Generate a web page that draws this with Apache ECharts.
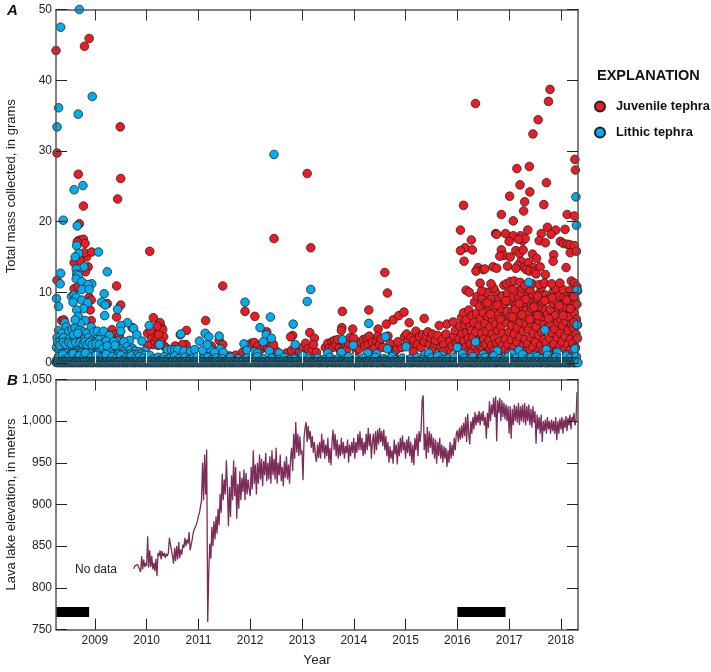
<!DOCTYPE html>
<html>
<head>
<meta charset="utf-8">
<title>Tephra mass and lava lake elevation</title>
<script src="https://cdn.jsdelivr.net/npm/echarts@6/dist/echarts.min.js"></script>
<style>html,body{margin:0;padding:0;background:#fff}#chart{width:711px;height:672px}</style>
</head>
<body>
<div id="chart"></div>
<script>
// Year ticks shared by both panels
const yearTicks = [2009, 2010, 2011, 2012, 2013, 2014, 2015, 2016, 2017, 2018];

// Juvenile tephra samples: [decimal year, grams]
const juvenileEarly = [
[2008.25,44.2],[2008.8,44.8],[2008.89,45.9],[2009.49,33.4],[2008.27,29.7],[2008.68,26.7],[2009.5,26.1],[2009.44,23.2],[2008.78,22.2],[2008.7,19.7],
[2008.68,17.3],[2008.72,17.4],[2008.78,17.5],[2008.81,16.9],[2008.66,17.1],[2008.84,15],[2008.6,14.2],[2008.72,14.5],[2008.87,13.6],[2008.82,12.9],
[2008.6,10.5],[2008.68,10.8],[2008.89,9.3],[2008.93,8.9],[2008.91,7.5],[2008.93,6],[2008.36,6],[2008.4,6.1],[2008.27,11.7],[2008.8,15.6],
[2008.94,15.7],[2009.24,8.4],[2009.42,10.9],[2009.5,8.2],[2009.42,6.5],[2009.33,4.7],[2009.38,4],[2009.72,5],[2009.47,3.8],[2009.62,2.6],
[2010.06,15.8],[2010.13,6.4],[2010.26,5.7],[2010.29,5],[2010.31,4.7],[2010.33,3.7],[2010.02,4.2],[2010.15,4.2],[2010.2,5.2],[2010.1,3.5],
[2010.18,3.2],[2010.23,4],[2010.28,3],[2010.12,2.6],[2010.02,2.5],[2010.34,2.4],[2010.38,2.1],[2010.08,4.6],[2010.22,2.5],[2010.77,4.6],
[2010.65,4],[2010.76,2.6],[2010.69,2.6],[2010.55,2.4],[2011.14,6],[2011.4,3.2],[2011.47,2.6],[2011.47,10.9],[2011.25,2.4],[2011.18,1.8],
[2011.6,1],[2011.72,1.1],[2011.85,1.5],[2011.9,7.3],[2012.09,6.6],[2012.32,4.4],[2012.02,2.8],[2011.98,2.5],[2012.08,2.9],[2012.15,2.4],
[2012.2,1.9],[2012.28,2.3],[2012.34,2],[2012.4,2.5],[2012.46,17.6],[2012.5,1.7],[2012.45,2.6],[2012.82,3.9],[2012.78,3.7],[2012.7,1.4],
[2012.8,1.8],[2012.88,2],[2012.95,1.5],[2013.02,2.2],[2013.07,2.8],[2013.1,26.8],[2013.15,4.3],[2013.24,3.5],[2013.17,16.3],[2013.12,2],
[2013.2,1.8],[2013.22,2.6],[2013.28,1.5]
];
const juvenileMiddle = [
[2013.45,2.2],[2013.5,2.8],[2013.53,2.1],[2013.58,3],[2013.6,2.2],[2013.63,3.2],[2013.66,2.5],[2013.69,3.3],[2013.72,2.1],[2013.75,1.6],
[2013.78,7.3],[2013.77,5],[2013.76,4.6],[2013.8,3.1],[2013.84,2.5],[2013.86,1.9],[2013.9,2.8],[2013.93,3.6],[2013.98,4.8],[2014,3.5],
[2014.03,2.3],[2014.05,1.7],[2014.1,2],[2014.14,2.9],[2014.18,3.3],[2014.21,2.4],[2014.25,3.5],[2014.28,2.6],[2014.29,7.5],[2014.3,3.8],
[2014.33,1.8],[2014.36,3],[2014.4,2.1],[2014.44,3.1],[2014.47,4.8],[2014.47,3.8],[2014.5,2.6],[2014.53,3.4],[2014.56,2.2],[2014.6,12.8],
[2014.65,9.9],[2014.63,5.5],[2014.66,3.8],[2014.7,2.7],[2014.73,1.8],[2014.76,6.1],[2014.79,1.6],[2014.83,1.9],[2014.87,6.7],[2014.97,7.2],
[2014.98,3.7],[2015.02,4.1],[2015.07,5.7],[2015.04,3],[2015.1,3.6],[2015.13,2.4],[2015.16,3.2],[2015.2,4.5],[2015.23,2.6],[2015.27,3.7],
[2015.3,2.2],[2015.33,4],[2015.36,6.3],[2015.36,3],[2015.4,3.8],[2015.43,4.4],[2015.46,2.6],[2015.49,3.5],[2015.52,4.1],[2015.55,2.3],
[2015.58,3.2],[2015.62,3.9],[2015.65,5.3],[2015.68,2.2],[2015.71,3.3],[2015.74,2.6],[2015.78,4.1],[2015.8,5.5],[2015.83,1.9],[2015.86,3.1],
[2015.9,2.4],[2015.93,3.8],[2015.96,4.6],[2015.98,2.8],[2015.92,5.8],[2015.72,1.6],[2015.5,1.7],[2015.15,1.6],[2014.92,2.2],[2014.85,3]
];
const juvenileRecentHigh = [
[2016.35,36.7],[2017.79,38.7],[2017.76,37],[2017.56,34.4],[2017.46,32.4],[2018.27,28.8],[2018.28,27.3],[2017.15,27.5],[2017.39,27.8],[2017.21,25.2],
[2017.72,25.5],[2017.4,24.2],[2017.01,23.6],[2017.3,22.8],[2016.12,22.3],[2017.67,22.4],[2017.28,21.5],[2016.85,21],[2018.12,21],[2018.26,20.8],
[2017.08,20.1],[2016.06,18.8],[2016.74,18.3],[2016.93,18.3],[2017.08,18],[2017.36,18.8],[2017.74,19.2],[2017.9,18.8],[2018.08,18.9],[2017.81,18.2],
[2017.62,18.3],[2016.27,17.4],[2016.15,16.3],[2016.06,15.9],[2016.29,16],[2016.13,14.4],[2016.76,18.2],[2017.22,18],[2017.26,17.3],[2017.31,17.6],
[2017.0,17.2],[2017.18,17.5],[2017.58,17.3],[2017.7,17],[2017.99,17.2],[2018.05,16.9],[2018.12,16.8],[2018.18,16.7],[2018.26,16.6],[2016.85,16],
[2016.9,15.2],[2017.13,15.9],[2017.2,15.5],[2017.27,16],[2016.82,15.1],[2017.02,15],[2017.45,15.4],[2017.53,14.8],[2017.86,15.3],[2017.85,14.4],
[2018.18,15.6],[2018.3,15.8],[2017.23,14.4],[2017.17,13.8],[2017.29,13.5],[2017.37,14.2],[2017.33,13.2],[2017.47,13.5],[2017.39,13],[2017.49,12.9],
[2017.6,13.6],[2017.52,12.6],[2018.1,13.5],[2016.4,13.5],[2016.36,13],[2016.5,13.2],[2016.53,13.3],[2016.69,13.6],[2016.76,13.4],[2016.97,13.7],
[2017.13,13.4],[2017.7,12.5],[2016.17,10.3],[2016.23,10],[2016.44,11.3],[2016.65,11.2],[2016.9,11],[2016.95,11.2],[2017.02,11.5],[2017.1,11.6],
[2017.21,11.4],[2017.3,11],[2017.45,11.2],[2017.58,11.1],[2017.68,11.3],[2017.82,11.2],[2017.98,11.3],[2018.2,11.6],[2018.26,11.3],[2018.31,10.8]
];
const juvenileRecentLow = [
[2016.02,1.6],[2016.03,3.4],[2016.05,5.2],[2016.06,2.4],[2016.08,6.4],[2016.09,4.1],[2016.1,1.9],[2016.12,7.1],[2016.13,3.1],[2016.14,5.4],
[2016.16,2.2],[2016.17,6.1],[2016.18,4.3],[2016.2,1.6],[2016.21,3.5],[2016.22,7.5],[2016.24,5.1],[2016.25,2.7],[2016.27,4.6],[2016.28,6.7],
[2016.29,1.8],[2016.3,3.6],[2016.32,5.7],[2016.33,8.6],[2016.34,2.4],[2016.36,4.4],[2016.37,7],[2016.38,9.4],[2016.39,1.6],[2016.4,3.2],
[2016.42,5.3],[2016.43,8],[2016.44,2.3],[2016.45,6.3],[2016.47,4.2],[2016.48,9.2],[2016.49,1.9],[2016.5,7.1],[2016.51,3.4],[2016.53,5.6],
[2016.54,8.4],[2016.55,2.6],[2016.56,10],[2016.57,4.5],[2016.59,6.6],[2016.6,1.7],[2016.61,3.2],[2016.62,7.8],[2016.63,5.1],[2016.65,9],
[2016.66,2.5],[2016.67,4.1],[2016.68,6.2],[2016.69,8.1],[2016.71,1.8],[2016.72,3.5],[2016.73,10.1],[2016.74,5.5],[2016.75,7.4],[2016.76,2.8],
[2016.78,4.6],[2016.79,6.8],[2016.8,9],[2016.81,1.6],[2016.82,3.1],[2016.84,5.2],[2016.85,7.7],[2016.86,2.4],[2016.87,9.5],[2016.88,4.2],
[2016.9,6.3],[2016.91,8.4],[2016.92,1.9],[2016.93,3.4],[2016.95,5.7],[2016.96,7.3],[2016.97,9.8],[2016.98,2.6],[2017,4.4],[2017.01,6.6],
[2017.02,8.7],[2017.03,1.7],[2017.04,3.3],[2017.05,5.3],[2017.07,7.4],[2017.08,9.3],[2017.09,2.2],[2017.1,4.1],[2017.11,6.2],[2017.13,8.2],
[2017.14,10.1],[2017.15,3],[2017.16,5],[2017.17,7.1],[2017.18,9.2],[2017.2,1.8],[2017.21,3.7],[2017.22,5.8],[2017.23,7.8],[2017.24,9.9],
[2017.26,2.4],[2017.27,4.5],[2017.28,6.5],[2017.29,8.5],[2017.3,1.6],[2017.31,3.3],[2017.33,5.4],[2017.34,7.5],[2017.35,9.4],[2017.36,2.7],
[2017.37,4.7],[2017.38,6.9],[2017.39,8.9],[2017.41,1.9],[2017.42,3.6],[2017.43,5.6],[2017.44,7.7],[2017.45,9.7],[2017.46,2.3],[2017.47,4.2],
[2017.49,6.3],[2017.5,8.3],[2017.51,3],[2017.52,5.1],[2017.53,7.2],[2017.54,9.1],[2017.56,1.7],[2017.57,3.9],[2017.58,6],[2017.59,8],
[2017.6,10],[2017.61,2.5],[2017.63,4.4],[2017.64,6.5],[2017.65,8.6],[2017.66,1.8],[2017.67,3.3],[2017.68,5.4],[2017.7,7.5],[2017.71,9.6],
[2017.72,2.9],[2017.73,4.9],[2017.74,6.9],[2017.75,9],[2017.77,1.6],[2017.78,3.5],[2017.79,5.6],[2017.8,7.6],[2017.81,2.3],[2017.82,4.3],
[2017.84,6.4],[2017.85,8.4],[2017.86,10.2],[2017.87,2.7],[2017.88,4.8],[2017.89,6.7],[2017.91,8.8],[2017.92,1.7],[2017.93,3.6],[2017.94,5.7],
[2017.95,7.8],[2017.96,9.5],[2017.98,2.4],[2017.99,4.2],[2018,6.1],[2018.01,8.2],[2018.02,3],[2018.03,5.3],[2018.05,7.3],[2018.06,9.3],
[2018.07,1.9],[2018.08,3.8],[2018.09,5.9],[2018.1,7.9],[2018.12,10],[2018.13,2.6],[2018.14,4.6],[2018.15,6.6],[2018.16,8.6],[2018.17,1.8],
[2018.19,3.4],[2018.2,5.5],[2018.21,7.6],[2018.22,9.7],[2018.23,2.8],[2018.24,4.9],[2018.26,7],[2018.27,9],[2018.28,2.2],[2018.29,4.1],
[2018.3,6.2],[2018.31,8.3],[2018.32,10.2],[2018.32,3.5],[2018.32,5.4],[2016.7,10.6],[2016.47,10.2],[2017.06,10.5],[2017.4,10.4],[2017.62,10.7],
[2017.9,10.5],[2018.04,10.4],[2018.18,10.3],[2017.25,10.6],[2017.12,7.6],[2017.32,9],[2017.55,9.4],[2017.83,9.2],[2018.11,8.9],[2018.25,9.4],
[2016.58,8.5],[2016.77,8.2],[2016.94,8.8],[2017.19,8.4],[2017.48,7.9],[2017.69,8.8],[2017.97,8.1],[2018.18,7.7],[2016.64,6.9],[2016.83,6.2],
[2017.06,6.5],[2017.25,6.8],[2017.4,6.2],[2017.55,6.7],[2017.76,6.3],[2018.04,6.7],[2018.25,5.7],[2016.26,1.4],[2016.52,1.3],[2016.99,1.4]
];

// Lithic tephra samples: [decimal year, grams]
const lithicEarly = [
[2008.7,50],[2008.34,47.5],[2008.3,36.1],[2008.27,33.4],[2008.68,35.2],[2008.95,37.7],[2008.77,25.1],[2008.6,24.5],[2008.39,20.2],[2008.66,19.4],
[2008.65,16.6],[2009.07,15.7],[2009.24,12.9],[2008.34,12.7],[2008.33,11.2],[2008.69,15.5],[2008.62,15],[2008.79,13.6],[2008.64,13.3],[2008.65,12.6],
[2008.68,12.4],[2008.64,11.9],[2008.75,11.5],[2008.94,11.2],[2008.87,11.1],[2008.75,10.4],[2008.89,10.4],[2009.18,9.8],[2008.55,9.4],[2008.6,9.6],
[2008.26,9.1],[2008.64,9.3],[2008.75,8.9],[2009.13,8.6],[2008.86,8.5],[2008.58,8.6],[2008.3,8],[2009.2,8.2],[2009.44,7.6],[2008.78,7.7],
[2008.65,7.5],[2009.19,6.7],[2008.81,6],[2008.68,6.6],[2008.72,5.6],[2008.62,6.1],[2009.63,5.7],[2009.5,5.3],[2009.75,4.9],[2009.5,4.5],
[2009.81,4],[2009.67,3.2],[2009.91,3.1],[2009.44,3.1],[2008.42,5.7],[2008.45,5.1],[2008.3,4.6],[2008.36,4.2],[2008.5,4.5],[2008.56,4.8],
[2008.62,4.9],[2008.7,4.6],[2008.78,4.4],[2008.84,4.2],[2008.93,5.1],[2008.98,4.4],[2009.05,4.5],[2009.12,3.9],[2009.17,4.5],[2009.28,3.9],
[2008.27,3.6],[2008.33,3.1],[2008.4,3.6],[2008.46,3],[2008.52,3.5],[2008.58,3.2],[2008.66,3.6],[2008.73,3.2],[2008.8,3.4],[2008.88,3.6],
[2008.94,3.2],[2009,3],[2009.08,3.3],[2009.15,2.7],[2009.22,3.1],[2009.3,2.6],[2009.37,3],[2009.56,3],[2009.62,2.3],[2009.72,2.1],
[2008.26,2.2],[2008.31,1.8],[2008.37,2.4],[2008.43,1.7],[2008.48,2.3],[2008.54,1.9],[2008.6,2.4],[2008.64,1.7],[2008.7,2.2],[2008.76,1.8],
[2008.82,2.4],[2008.86,1.8],[2008.91,2.3],[2008.97,1.8],[2009.03,2.2],[2009.1,1.8],[2009.18,2],[2009.25,1.7],[2009.33,2.1],[2009.41,1.8],
[2009.48,2],[2009.54,1.6],[2009.68,1.8],[2009.78,1.7],[2009.86,1.6],[2009.97,1.7],[2010.05,5.3],[2010.25,2.6],[2010.4,1.8],[2010.48,1.9],
[2010.54,1.9],[2010.6,1.9],[2010.66,4.1],[2010.72,1.7],[2010.85,1.7],[2010.93,1.9],[2011.02,3.1],[2011.13,4.2],[2011.2,3.7],[2011.4,3.8],
[2011.42,2],[2011.22,2],[2011.08,1.8],[2011.17,2.6],[2011.31,1.5],[2011.48,1.5],
[2008.28,2.9],[2008.32,2.5],[2008.35,1.3],[2008.39,2.9],[2008.41,1.2],[2008.44,2.6],[2008.47,1.4],[2008.5,2.9],[2008.53,1.2],[2008.55,2.7],
[2008.57,1.4],[2008.59,4],[2008.61,1.2],[2008.63,2.9],[2008.65,1.4],[2008.67,4.2],[2008.69,1.2],[2008.71,2.9],[2008.74,1.4],[2008.77,2.7],
[2008.79,1.2],[2008.81,3],[2008.83,1.4],[2008.85,2.6],[2008.87,1.2],[2008.9,2.9],[2008.92,1.4],[2008.95,2.6],[2008.99,1.2],[2009.02,2.7],
[2009.06,1.4],[2009.09,2.6],[2009.13,1.2],[2009.16,2.1],[2009.2,1.4],[2009.24,2.4],[2009.27,1.2],[2009.31,1.5],[2009.35,1.2],[2009.39,2.5],
[2009.43,1.2],[2009.46,1.3],[2009.52,1.2],[2009.58,1.3],[2009.65,1.2],[2009.7,1.3],[2009.76,1.2],[2009.83,1.2],[2009.9,1.3],[2009.95,1.1]
];
const lithicLater = [
[2012.46,29.5],[2013.17,10.4],[2013.1,8.7],[2011.9,8.6],[2012.39,6.5],[2012.19,5],[2012.31,4],[2012.41,3.5],[2012.25,3],[2011.88,2.7],
[2011.94,1.8],[2012.83,5.5],[2012.87,2.6],[2013.78,3.3],[2013.99,2.5],[2014.29,5.6],[2014.61,3.7],[2014.65,2],[2015.01,2.3],[2012.08,1.6],
[2012.14,1.4],[2012.37,1.7],[2012.56,1.4],[2013.0,1.2],[2013.5,1.4],[2013.76,1.5],[2014.27,1.4],[2014.44,1.3],[2014.75,1.1],[2015.37,1.2],
[2015.45,1.4],[2015.7,1.1],[2016.0,2.2],[2016.35,3],[2016.77,1.7],[2017.19,1.8],[2017.38,11.4],[2017.69,4.7],[2017.72,1.9],[2017.93,1.5],
[2018.29,23.5],[2018.3,19.5],[2018.31,10.3],[2018.31,5.4],[2018.27,2],[2016.1,1.3],[2016.5,1.2],[2017.05,1.3],[2017.5,1.1],[2018.1,1.2]
];
// Small lithic samples along the base of the panel, one every 0.04 year from 2008.26
const lithicBaseline = [
.4,.9,.2,1.2,.5,.1,.8,.3,1.3,.2,.6,1,.1,.7,1.4,.3,.5,.9,.2,1.1,.4,.1,.8,.6,1.2,.2,.5,.9,.1,.7,.3,1.1,.4,.2,.8,.5,1,.1,.6,.3,
.9,.2,.7,.1,.5,1.1,.3,.6,.1,.8,.4,.2,.9,.5,.1,.7,.3,1,.2,.6,.1,.4,.8,.2,.5,.1,.7,.3,.9,.1,.4,.6,.2,.8,.1,.5,.3,.7,.1,.4,
.6,.2,.1,.5,.8,.2,.3,.1,.6,.2,.4,.1,.7,.3,.1,.5,.2,.9,.1,.3,.6,.1,.2,.4,.7,.1,.3,.5,.1,.2,.8,.3,.1,.5,.2,.6,.1,.4,.2,1,
.1,.3,.6,.1,.4,.2,.7,.1,.3,.5,.2,.1,.8,.2,.4,.1,.6,.3,.1,.5,.2,.9,.1,.3,.2,.6,.1,.4,.7,.1,.3,.2,.5,.1,.8,.2,.3,.1,.6,.4,
.1,.2,.9,.1,.5,.3,.1,.7,.2,.4,.1,.6,.2,.1,.8,.3,.1,.5,.2,.4,.1,.7,.2,.1,1,.3,.1,.5,.2,.6,.1,.3,.8,.1,.2,.4,.1,.7,.2,.5,
.1,.9,.2,.3,.1,.6,.2,.8,.1,.4,.2,1,.1,.3,.6,.1,.5,.2,.9,.1,.4,.1,.7,.2,.3,1.2,.1,.5,.2,.8,.1,.4,.9,.2,.6,.1,.3,1.1,.2,.5,
.1,.8,.3,.6,.1,.4,1,.2,.7,.1,.5,.9
];
// Very small samples packed against the axis, one every 0.015 year from 2008.25
const lithicTrace = [
.1,.05,.15,.1,.2,.05,.1,.15,.05,.2,.1,.05,.15,.1,.05,.2,.1,.15,.05,.1,.2,.05,.15,.1,.05,.1,.2,.15,.05,.1,.15,.05,.2,.1,.05,.15,.1,.2,.05,.1,
.15,.05,.1,.2,.1,.05,.15,.1,.05,.2,.1,.15,.05,.1,.2,.05,.15,.1,.05,.1,.2,.15,.05,.1,.15,.05,.2,.1,.05,.15,.1,.2,.05,.1,.15,.05,.1,.2,.1,.05,
.15,.1,.05,.2,.1,.15,.05,.1,.2,.05,.15,.1,.05,.1,.2,.15,.05,.1,.15,.05,.2,.1,.05,.15,.1,.2,.05,.1,.15,.05,.1,.2,.1,.05,.15,.1,.05,.2,.1,.15,
.05,.1,.2,.05,.15,.1,.05,.1,.2,.15,.05,.1,.15,.05,.2,.1,.05,.15,.1,.2,.05,.1,.15,.05,.1,.2,.1,.05,.15,.1,.05,.2,.1,.15,.05,.1,.2,.05,.15,.1,
.05,.1,.2,.15,.05,.1,.15,.05,.2,.1,.05,.15,.1,.2,.05,.1,.15,.05,.1,.2,.1,.05,.15,.1,.05,.2,.1,.15,.05,.1,.2,.05,.15,.1,.05,.1,.2,.15,.05,.1,
.15,.05,.2,.1,.05,.15,.1,.2,.05,.1,.15,.05,.1,.2,.1,.05,.15,.1,.05,.2,.1,.15,.05,.1,.2,.05,.15,.1,.05,.1,.2,.15,.05,.1,.15,.05,.2,.1,.05,.15,
.1,.2,.05,.1,.15,.05,.1,.2,.1,.05,.15,.1,.05,.2,.1,.15,.05,.1,.2,.05,.15,.1,.05,.1,.2,.15,.05,.1,.15,.05,.2,.1,.05,.15,.1,.2,.05,.1,.15,.05,
.1,.2,.1,.05,.15,.1,.05,.2,.1,.15,.05,.1,.2,.05,.15,.1,.05,.1,.2,.15,.05,.1,.15,.05,.2,.1,.05,.15,.1,.2,.05,.1,.15,.05,.1,.2,.1,.05,.15,.1,
.05,.2,.1,.15,.05,.1,.2,.05,.15,.1,.05,.1,.2,.15,.05,.1,.15,.05,.2,.1,.05,.15,.1,.2,.05,.1,
.15,.1,.05,.2,.05,.1,.15,.2,.1,.05,.1,.15,.05,.1,.2,.05,.15,.1,.2,.05,.1,.05,.15,.2,.1,.05,.15,.1,.05,.2,.15,.05,.1,.15,.05,.1,.2,.1,.05,.15,
.05,.1,.2,.05,.15,.05,.1,.2,.15,.05,.1,.05,.2,.15,.1,.05,.1,.15,.2,.05,.1,.05,.15,.1,.2,.15,.05,.1,.05,.2,.1,.05,.15,.1,.2,.05,.1,.15,.05,.1,
.2,.05,.1,.15,.05,.1,.05,.2,.15,.1,.05,.15,.1,.05,.2,.1,.05,.15,.05,.1,.2,.15,.05,.1,.05,.15,.2,.1,.05,.15,.1,.05,.2,.05,.1,.15,.2,.1,.05,.1,
.15,.05,.1,.2,.05,.15,.1,.2,.05,.1,.05,.15,.2,.1,.05,.15,.1,.05,.2,.15,.05,.1,.15,.05,.1,.2,.1,.05,.15,.05,.1,.2,.05,.15,.05,.1,.2,.15,.05,.1,
.05,.2,.15,.1,.05,.1,.15,.2,.05,.1,.05,.15,.1,.2,.15,.05,.1,.05,.2,.1,.05,.15,.1,.2,.05,.1,.15,.05,.1,.2,.05,.1,.15,.05,.1,.05,.2,.15,.1,.05,
.15,.1,.05,.2,.1,.05,.15,.05,.1,.2,.15,.05,.1,.05,.15,.2,.1,.05,.15,.1,.05,.2,.05,.1,.15,.2,.1,.05,.1,.15,.05,.1,.2,.05,.15,.1,.2,.05,.1,.05,
.15,.2,.1,.05,.15,.1,.05,.2,.15,.05,.1,.15,.05,.1,.2,.1,.05,.15,.05,.1,.2,.05,.15,.05,.1,.2,.15,.05,.1,.05,.2,.15,.1,.05,.1,.15,.2,.05,.1,.05,
.15,.1,.2,.15,.05,.1,.05,.2,.1,.05,.15,.1,.2,.05,.1,.15,.05,.1,.2,.05,.1,.15,.05,.1,.05,.2,.15,.1,.05,.15,.1,.05,.2,.1,.05,.15,.05,.1,.2,.15,
.05,.1,.05,.15,.2,.1,.05,.15,.1,.05,.2,.05,.1,.15,.2,.1,.05,.1,.15,.05,.1,.2,.05,.15,.1,.2,.05,.1,.05,.15,.2,.1
];

// Lava lake elevation in meters, sampled evenly within each span
const lake2009 = [823,826,827,826,828,827,827,819,838,822,834,825,830];
const lake2010 = [826,862,824,845,825,838,822,830,820,835,814,842,838,845,834,844,838,842,836,841,838,842,860,861,845,838,829,848,832,850,834,855,836,846,840,852,848,860,850,858,853,867,845,843,858,866,870,872,876,880];
const lake2011 = [886,890,892,905,950,905,960,912,966,759,820,853,835,873,850,880,858,886,865,895,875,913,890,937,905,930,912,953,920,874,921,885,935,905,953,910,945,883,925,895,940,905,932,915,942,905,938,912,930,918];
const lake2012 = [910,945,918,965,925,948,912,950,925,960,930,955,922,952,935,962,928,950,930,958,925,965,935,955,930,968,925,950,935,960,928,945,922,952,932,958,930,948,925,955,968,940,985,955,999,962,985,958,982,960];
const lake2013 = [965,929,980,992,999,975,994,978,988,968,982,962,975,958,951,972,956,975,955,985,962,978,955,972,958,980,950,968,947,975,990,965,985,958,978,955,972,958,980,960,975,955,970,962,978,950,972,958,975,962];
const lake2014 = [980,955,975,962,985,965,988,965,980,958,975,960,985,965,992,970,985,955,975,985,960,988,965,990,972,992,975,988,970,990,965,982,958,975,950,970,955,965,949,978,960,972,948,975,958,980,962,983,965,975];
const lake2015 = [955,978,962,982,958,975,950,972,947,980,965,985,958,988,975,989,1025,1031,965,985,955,993,962,988,968,985,960,980,955,978,949,975,958,980,955,972,950,970,955,968,945,965,950,975,955,972,958,980,965,985];
const lake2016 = [989,975,992,978,995,980,998,982,1005,975,1009,985,972,1000,985,1005,990,1011,995,1008,998,1012,995,1010,1000,1012,995,1005,979,1010,992,1024,1000,1020,1008,1028,1005,1030,976,1025,1010,1028,1000,1025,1005,1022,1002,1020,1000,1018];
const lake2017 = [985,1018,979,1015,995,1020,1000,1018,998,1022,995,1018,1000,1020,998,1022,995,1018,1000,1020,995,1015,992,1018,998,1012,973,1008,990,1005,985,1008,975,1000,988,1002,985,1005,990,1000,985,1002,988,1000,985,1005,977,1000,985,1003];
const lake2018 = [990,1005,985,1002,992,1006,988,1004,995,1008,990,1005,1000,1010,995,1000,1035];

// Periods without lake measurements: [start year, end year]
const noDataSpans = [[2008.25, 2008.89], [2016.0, 2016.93]];
const noDataLevel = 771;

const xMin = 2008.25, xMax = 2018.33;
const juvenile = [].concat(juvenileEarly, juvenileMiddle, juvenileRecentLow, juvenileRecentHigh);
const lithic = [].concat(
  lithicEarly, lithicLater,
  lithicBaseline.map((m, i) => [2008.26 + i * 0.04, m]),
  lithicTrace.map((m, i) => [2008.25 + i * 0.015, m])
);

const lakeSpans = [[2009.75, 2010, lake2009], [2010, 2011, lake2010], [2011, 2012, lake2011], [2012, 2013, lake2012],
  [2013, 2014, lake2013], [2014, 2015, lake2014], [2015, 2016, lake2015], [2016, 2017, lake2016], [2017, 2018, lake2017], [2018, 2018.33, lake2018]];
const lake = [];
lakeSpans.forEach(([a, b, vals]) => vals.forEach((v, i) => lake.push([a + (b - a) * i / vals.length, v])));

const FONT = '"Liberation Sans", sans-serif';
const FRAME = { lineStyle: { color: '#555', width: 1.5 } };
const dotStyle = c => ({ color: c, borderColor: '#222', borderWidth: 0.8, opacity: 1 });

function xAxis(gridIndex, position, labelled, tickColor) {
  return {
    type: 'value', gridIndex, position, min: xMin, max: xMax, z: 6,
    axisLine: { show: true, onZero: false, ...FRAME }, splitLine: { show: false },
    axisTick: { show: true, inside: true, length: 11, customValues: yearTicks, lineStyle: { color: tickColor, width: 1 } },
    axisLabel: labelled
      ? { show: true, customValues: yearTicks, formatter: v => String(v), color: '#222', fontFamily: FONT, fontSize: 12, margin: 5 }
      : { show: false }
  };
}
function yAxis(gridIndex, position, min, max, interval, name) {
  return {
    type: 'value', gridIndex, position, min, max, interval, z: 6,
    axisLine: { show: true, onZero: false, ...FRAME }, splitLine: { show: false },
    axisTick: { show: true, inside: true, length: 11, lineStyle: { color: '#222', width: 1 } },
    axisLabel: name
      ? { show: true, color: '#222', fontFamily: FONT, fontSize: 12, margin: 4,
          formatter: v => (v >= 1000 ? '1,' + String(v).slice(1) : String(v)) }
      : { show: false },
    name: name || '', nameLocation: 'middle', nameRotate: 90, nameGap: 38, nameMoveOverlap: false,
    nameTextStyle: { color: '#222', fontFamily: FONT, fontSize: 13 }
  };
}
const panelLetter = (text, y) => ({
  type: 'text', left: 7, top: y,
  style: { text, fill: '#111', font: 'italic bold 15px "Liberation Sans", sans-serif' }
});

const chart = echarts.init(document.getElementById('chart'), null, { renderer: 'canvas' });
chart.setOption({
  animation: false,
  backgroundColor: '#fff',
  grid: [
    { left: 56, top: 9.5, width: 522, height: 353.5, outerBoundsMode: 'none' },
    { left: 56, top: 379.5, width: 522, height: 250, outerBoundsMode: 'none' }
  ],
  xAxis: [
    xAxis(0, 'bottom', false, '#e8e8e8'),
    xAxis(0, 'top', false, '#333'),
    { ...xAxis(1, 'bottom', true, '#222'), name: 'Year', nameLocation: 'middle', nameGap: 24, nameMoveOverlap: false,
      nameTextStyle: { color: '#222', fontFamily: FONT, fontSize: 13.5 } },
    xAxis(1, 'top', false, '#333')
  ],
  yAxis: [
    yAxis(0, 'left', 0, 50, 10, 'Total mass collected, in grams'),
    yAxis(0, 'right', 0, 50, 10),
    yAxis(1, 'left', 750, 1050, 50, 'Lava lake elevation, in meters'),
    yAxis(1, 'right', 750, 1050, 50)
  ],
  legend: {
    data: ['Juvenile tephra', 'Lithic tephra'], orient: 'vertical', left: 589, top: 95,
    itemWidth: 14, itemHeight: 10, itemGap: 13, icon: 'circle', selectedMode: false,
    textStyle: { color: '#111', fontFamily: FONT, fontSize: 12.8, fontWeight: 'bold', padding: [0, 0, 0, 4] }
  },
  graphic: [
    panelLetter('A', 3), panelLetter('B', 373),
    { type: 'text', left: 597, top: 68, style: { text: 'EXPLANATION', fill: '#111', font: 'bold 14.5px ' + FONT } },
    { type: 'text', left: 75, top: 564, style: { text: 'No data', fill: '#222', font: '12px ' + FONT } }
  ],
  series: [
    { name: 'Juvenile tephra', type: 'scatter', xAxisIndex: 0, yAxisIndex: 0, symbolSize: 8.6, data: juvenile, itemStyle: dotStyle('#ed1c24'), z: 2 },
    { name: 'Lithic tephra', type: 'scatter', xAxisIndex: 0, yAxisIndex: 0, symbolSize: 8.6, data: lithic, itemStyle: dotStyle('#00aeef'), z: 3 },
    { name: 'Lava lake', type: 'line', xAxisIndex: 2, yAxisIndex: 2, data: lake, showSymbol: false, lineStyle: { color: '#7b2d57', width: 1.3 }, z: 2 },
    ...noDataSpans.map(([a, b]) => ({
      type: 'line', xAxisIndex: 2, yAxisIndex: 2, data: [[a, noDataLevel], [b, noDataLevel]],
      showSymbol: false, lineStyle: { color: '#000', width: 10, cap: 'butt' }, z: 3
    }))
  ]
});
</script>
</body>
</html>
